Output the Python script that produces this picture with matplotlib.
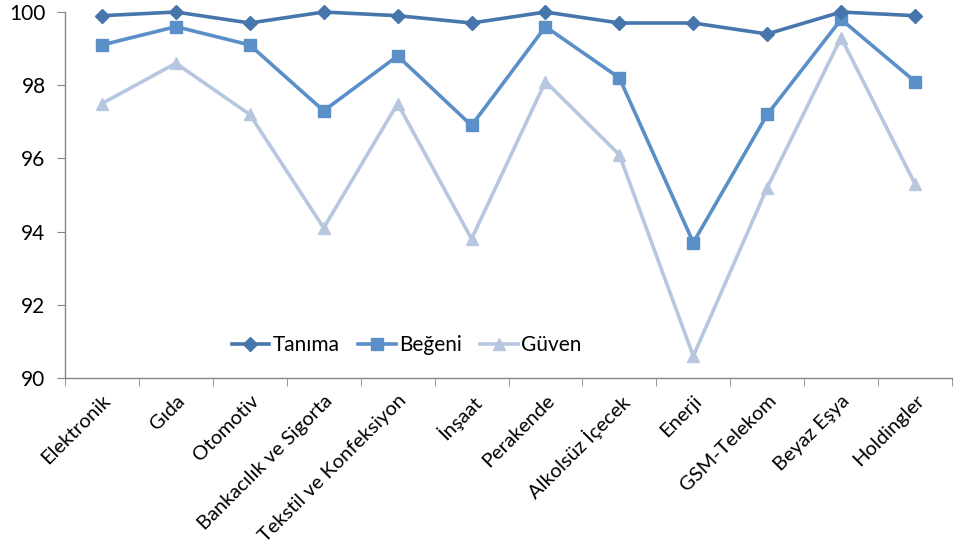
import matplotlib
matplotlib.use("Agg")
import matplotlib.pyplot as plt
from matplotlib.ticker import FixedLocator, NullFormatter

categories = ["Elektronik", "Gıda", "Otomotiv", "Bankacılık ve Sigorta",
              "Tekstil ve Konfeksiyon", "İnşaat", "Perakende", "Alkolsüz İçecek",
              "Enerji", "GSM-Telekom", "Beyaz Eşya", "Holdingler"]
tanima = [99.9, 100.0, 99.7, 100.0, 99.9, 99.7, 100.0, 99.7, 99.7, 99.4, 100.0, 99.9]
begeni = [99.1, 99.6, 99.1, 97.3, 98.8, 96.9, 99.6, 98.2, 93.7, 97.2, 99.8, 98.1]
guven = [97.5, 98.6, 97.2, 94.1, 97.5, 93.8, 98.1, 96.1, 90.6, 95.2, 99.3, 95.3]
series_names = ["Tanıma", "Beğeni", "Güven"]
yticks = [90, 92, 94, 96, 98, 100]

plt.rcParams['font.family'] = ['Lato', 'DejaVu Sans']

fig = plt.figure(figsize=(9.66, 5.54), dpi=100)
ax = fig.add_axes([0.0673, 0.3177, 0.9182, 0.6606])

x = list(range(len(categories)))
ax.plot(x, tanima, color="#4676AC", lw=2.6, marker="D", ms=7, label=series_names[0], zorder=3)
ax.plot(x, begeni, color="#5A8FC8", lw=2.6, marker="s", ms=9, label=series_names[1], zorder=2)
ax.plot(x, guven, color="#B8C7E0", lw=2.6, marker="^", ms=9, label=series_names[2], zorder=1)

ax.set_xlim(-0.5, len(categories) - 0.5)
ax.set_ylim(90, 100)
ax.set_yticks(yticks)
ax.set_xticks(x)
ax.set_xticklabels(categories, rotation=45, ha="right", rotation_mode="anchor", fontsize=14.5)
ax.xaxis.set_minor_locator(FixedLocator([i - 0.5 for i in range(len(categories) + 1)]))
ax.xaxis.set_minor_formatter(NullFormatter())
ax.tick_params(axis="x", which="major", length=0, pad=10)
ax.tick_params(axis="x", which="minor", length=6, color="#868686", direction="out")
ax.tick_params(axis="y", length=6, color="#868686", labelsize=15, pad=8)
for s in ["top", "right"]:
    ax.spines[s].set_visible(False)
for s in ["left", "bottom"]:
    ax.spines[s].set_color("#868686")
    ax.spines[s].set_linewidth(1.0)
for line in ax.lines:
    line.set_clip_on(False)

ax.legend(loc="center", bbox_to_anchor=(0.385, 0.09), ncol=3, frameon=False,
          fontsize=15, handlelength=1.8, handletextpad=0.15, columnspacing=0.9)

fig.savefig("out.png", dpi=100)
